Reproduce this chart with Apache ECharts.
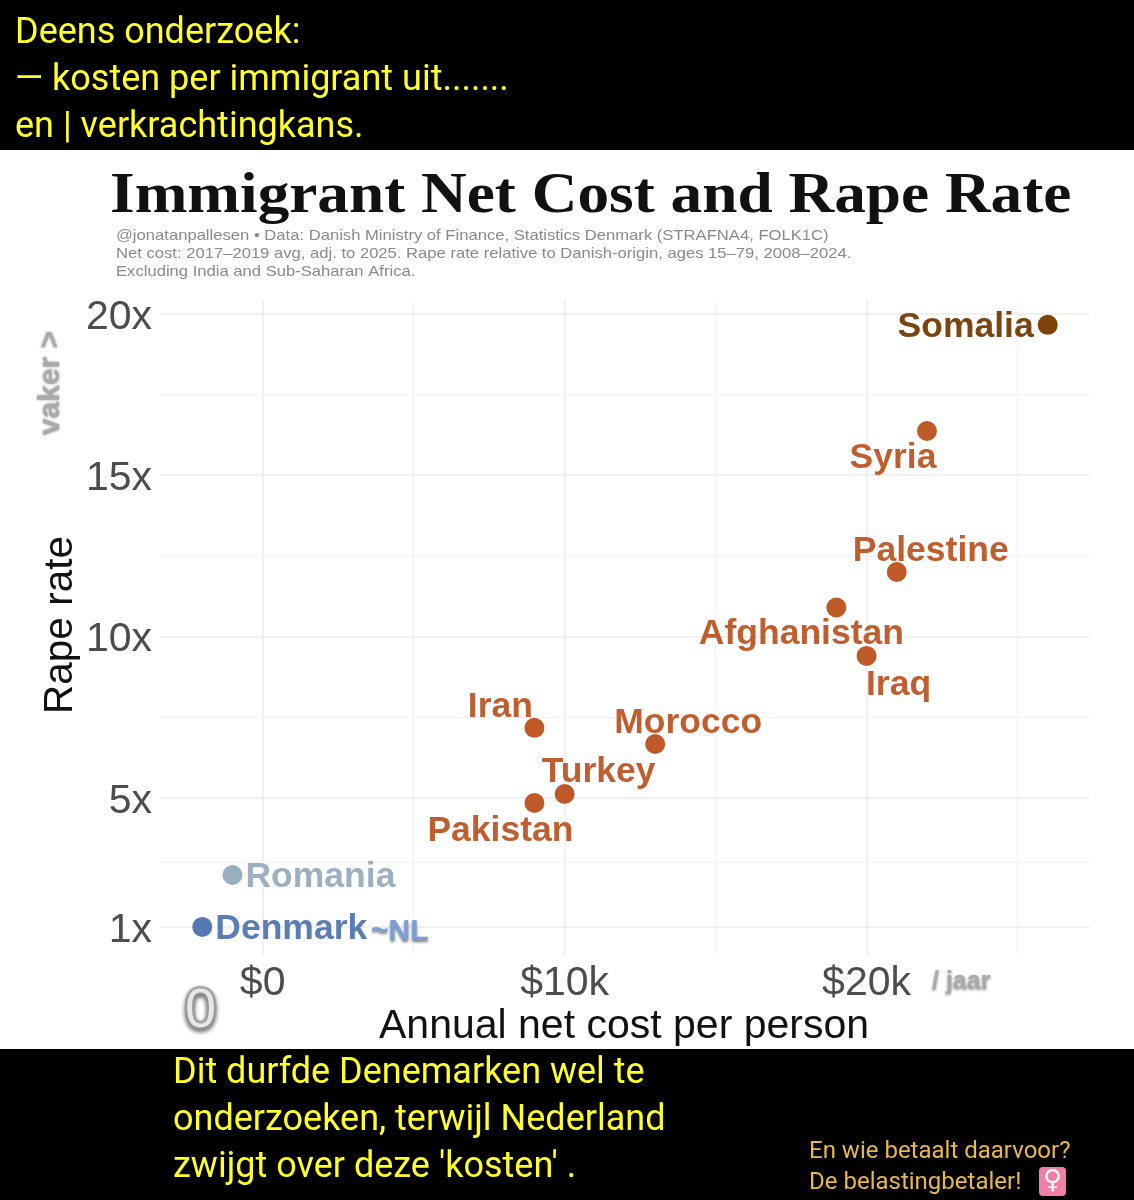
<!DOCTYPE html>
<html><head><meta charset="utf-8">
<style>html,body{margin:0;padding:0;background:#fff}#c{width:1134px;height:1200px}</style>
<script src="https://cdn.jsdelivr.net/npm/echarts@6/dist/echarts.min.js"></script>
</head><body><div id="c"></div>
<script>
const countries = ['Somalia','Syria','Palestine','Afghanistan','Iraq','Iran','Morocco','Turkey','Pakistan','Romania','Denmark'];
const netCost = [26,22,21,19,20,9,13,10,9,-1,-2];
const rapeRate = [19.66,16.37,12,10.9,9.4,7.17,6.67,5.12,4.84,2.61,1];
const xMajor = [0,10000,20000];
const xMinor = [5000,15000,25000];
const yMajor = [1,5,10,15,20];
const yMinor = [3,7.5,12.5,17.5];
const xTickLabels = ['$0','$10k','$20k'];
const yTickLabels = ['1x','5x','10x','15x','20x'];
const dotColors = {Somalia:'#7f4209',Romania:'#98afc2',Denmark:'#5479b5'};
const labelColors = {Somalia:'#7a4510',Romania:'#9db0c2',Denmark:'#5a7db5'};
const labelPos = {
 Somalia:['left',[1,2]],Syria:['bottom',[-34,-6]],Palestine:['top',[34,12]],Afghanistan:['bottom',[-35,-6]],
 Iraq:['bottom',[32,-4]],Iran:['top',[-34,12]],Morocco:['top',[33,12]],Turkey:['top',[34,11]],
 Pakistan:['bottom',[-34,-5]],Romania:['right',[-2,2]],Denmark:['right',[-2,2]]};
const sans = 'Liberation Sans';
const band = (y,h)=>({type:'rect',shape:{x:0,y,width:1134,height:h},style:{fill:'#000'},z:0});
const txt = (x,y,text,font,fill,extra={},sx=1)=>({type:'text',x,y,scaleX:sx,style:Object.assign({text,font,fill,verticalAlign:'middle'},extra),z:10});
const blur = (c,b,oy)=>({textShadowBlur:b,textShadowColor:c,textShadowOffsetY:oy,shadowBlur:b,shadowColor:c,shadowOffsetY:oy});
const yellow='#ffff2e', ui='Roboto';
const chart = echarts.init(document.getElementById('c'),null,{renderer:'canvas'});
chart.setOption({
 animation:false,
 backgroundColor:'#fff',
 grid:{left:160,right:44,top:300,bottom:245},
 xAxis:{type:'value',min:-3.4,max:27.4,
  axisLine:{show:false},axisTick:{show:false},splitLine:{show:false},
  axisLabel:{customValues:xMajor.map(v=>v/1000),formatter:v=>xTickLabels[xMajor.indexOf(v*1000)]||'',
   color:'#4d4d4d',fontFamily:sans,fontSize:41,margin:8,hideOverlap:false,showMinLabel:true,showMaxLabel:true}},
 yAxis:{type:'value',min:0.13,max:20.43,
  axisLine:{show:false},axisTick:{show:false},splitLine:{show:false},
  axisLabel:{customValues:yMajor,formatter:v=>'{a|'+(yTickLabels[yMajor.indexOf(v)]||'')+'}',
   margin:8,rich:{a:{color:'#4d4d4d',fontFamily:sans,fontSize:41,padding:[7,0,0,0]}}}},
 series:[{
  type:'scatter',
  symbolSize:20,
  itemStyle:{opacity:1},
  data:countries.map((n,i)=>{
    const p=labelPos[n];
    return {name:n,value:[netCost[i],rapeRate[i]],
     itemStyle:{color:dotColors[n]||'#bf5a28',opacity:1},
     label:{show:true,position:p[0],offset:p[1],formatter:n,color:labelColors[n]||'#bf5f30',
      fontFamily:sans,fontWeight:'bold',fontSize:35.5}};
  }),
  markLine:{silent:true,symbol:'none',label:{show:false},animation:false,z:0,
   data:[
    ...xMajor.map(v=>({xAxis:v/1000,lineStyle:{color:'#ececec',width:1.5,type:'solid'}})),
    ...xMinor.map(v=>({xAxis:v/1000,lineStyle:{color:'#f4f4f4',width:1,type:'solid'}})),
    ...yMajor.map(v=>({yAxis:v,lineStyle:{color:'#ececec',width:1.5,type:'solid'}})),
    ...yMinor.map(v=>({yAxis:v,lineStyle:{color:'#f4f4f4',width:1,type:'solid'}}))
   ]}
 }],
 graphic:{elements:[
  band(0,150),band(1049,151),
  txt(15,34,'Deens onderzoek:','36px '+ui,yellow),
  txt(15,81,'— kosten per immigrant uit.......','36px '+ui,yellow),
  txt(15,128,'en | verkrachtingkans.','36px '+ui,yellow),
  txt(110,198,'Immigrant Net Cost and Rape Rate','bold 56px "Liberation Serif"','#111',{},1.13),
  txt(116,236,'@jonatanpallesen • Data: Danish Ministry of Finance, Statistics Denmark (STRAFNA4, FOLK1C)','14.5px '+sans,'#8a8a8a',{},1.146),
  txt(116,254,'Net cost: 2017–2019 avg, adj. to 2025. Rape rate relative to Danish-origin, ages 15–79, 2008–2024.','14.5px '+sans,'#8a8a8a',{},1.146),
  txt(116,272,'Excluding India and Sub-Saharan Africa.','14.5px '+sans,'#8a8a8a',{},1.146),
  {type:'text',x:61,y:625,rotation:Math.PI/2,style:{text:'Rape rate',font:'40.5px '+sans,fill:'#111',align:'center',verticalAlign:'middle'},z:10},
  {type:'text',x:51,y:383,rotation:Math.PI/2,style:Object.assign({text:'vaker >',font:'bold 30px '+sans,fill:'#aaa',align:'center',verticalAlign:'middle'},blur('#999',3,0)),z:10},
  txt(379,1027,'Annual net cost per person','41px '+sans,'#111'),
  txt(932,982,'/ jaar','bold 25px '+sans,'#aaa',blur('#888',3,1)),
  txt(371,932,'~NL','bold 30px '+sans,'#7a9fd6',blur('#777',3,2)),
  txt(185,1012,'0','56px '+sans,'#e6e6e6',Object.assign({stroke:'#aaa',lineWidth:5},blur('#777',4,2))),
  txt(173,1074,'Dit durfde Denemarken wel te','36px '+ui,yellow),
  txt(173,1121,'onderzoeken, terwijl Nederland','36px '+ui,yellow),
  txt(173,1168,"zwijgt over deze 'kosten' .",'36px '+ui,yellow),
  txt(809,1152,'En wie betaalt daarvoor?','24px '+ui,'#e8b84c'),
  txt(809,1183,'De belastingbetaler!','24px '+ui,'#e8b84c'),
  {type:'rect',shape:{x:1039,y:1167,width:27,height:29,r:4},style:{fill:'#f27fa8'},z:9},
  {type:'text',x:1052.5,y:1181,style:{text:'♀',font:'bold 26px "DejaVu Sans"',fill:'#fff',align:'center',verticalAlign:'middle'},z:10}
 ]}
});
</script></body></html>
